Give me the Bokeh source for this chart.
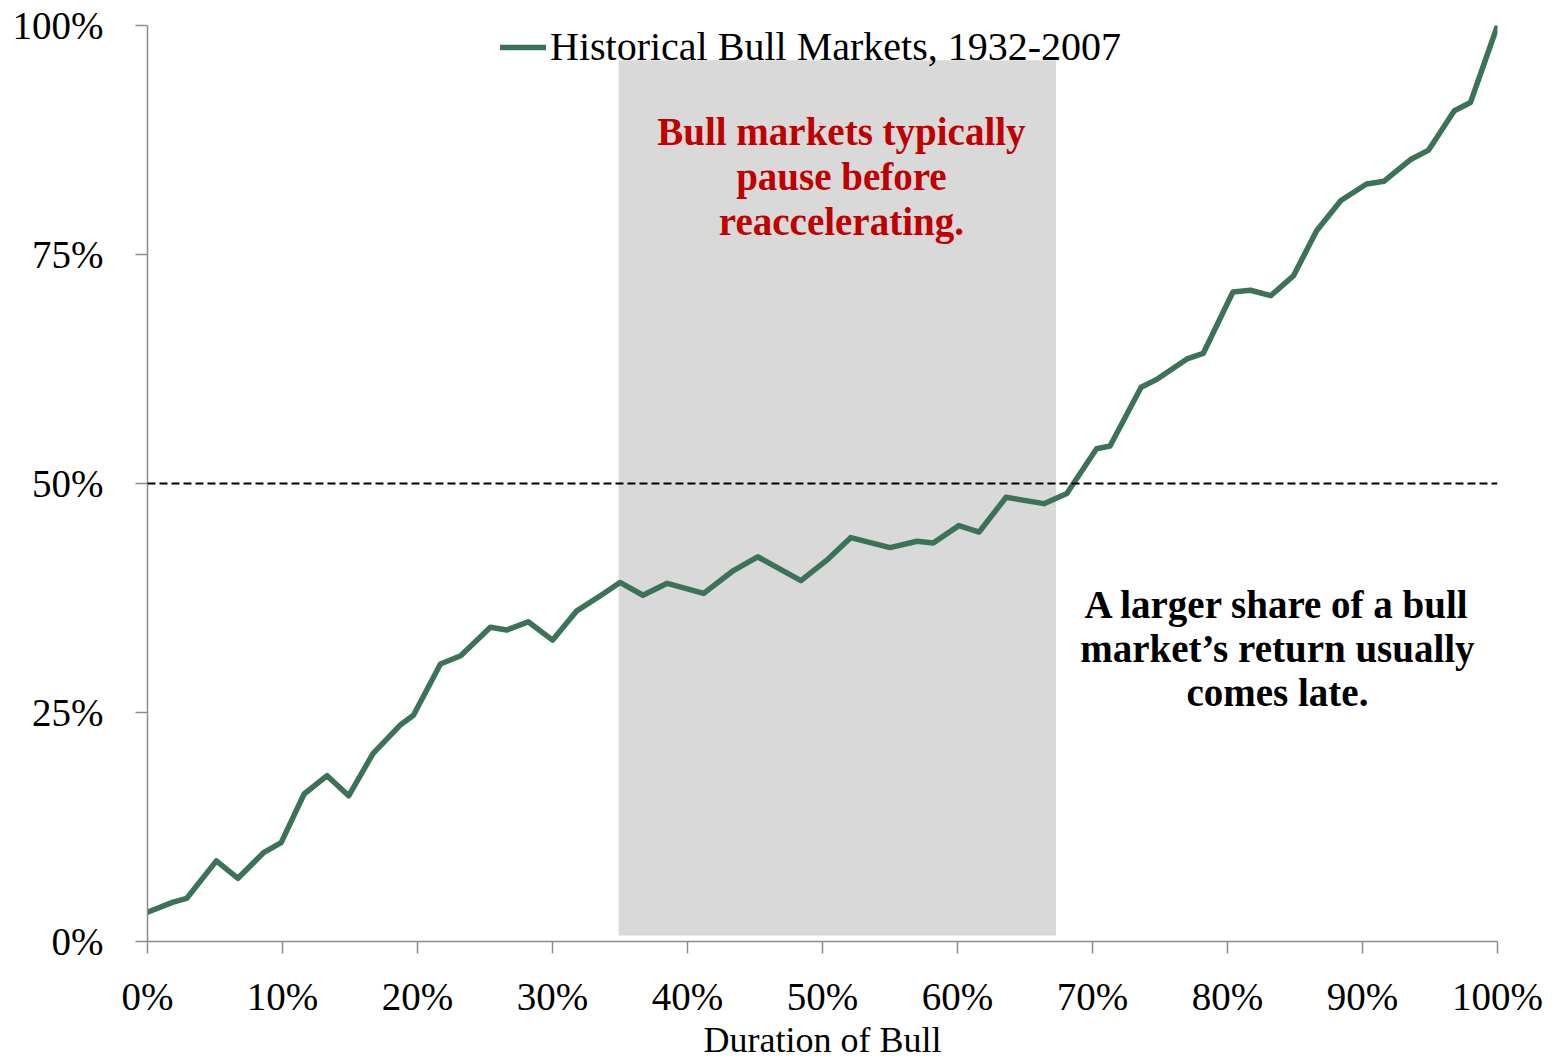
from bokeh.plotting import figure
from bokeh.models import (Range1d, FixedTicker, PrintfTickFormatter, BoxAnnotation,
                          Span, Label, Legend, LegendItem)
from bokeh.embed import file_html
from bokeh.resources import INLINE

# ---- data ----
duration_pct = [0.0, 1.9, 2.9, 5.1, 6.7, 8.6, 9.9, 11.6, 13.3, 14.9, 16.7, 18.7, 19.7,
                21.7, 23.2, 25.4, 26.6, 28.2, 30.0, 31.8, 33.6, 35.0, 36.7, 38.5, 41.2,
                43.4, 45.2, 48.4, 50.3, 52.1, 55.0, 57.0, 58.2, 60.1, 61.6, 63.6, 66.4,
                68.1, 70.3, 71.3, 73.6, 74.8, 77.0, 78.2, 80.4, 81.7, 83.2, 84.9, 86.6,
                88.4, 90.3, 91.6, 93.6, 94.9, 96.8, 98.0, 100.0]
return_share_pct = [3.2, 4.3, 4.7, 8.8, 6.9, 9.7, 10.8, 16.1, 18.1, 15.9, 20.5, 23.6, 24.7,
                    30.3, 31.2, 34.3, 34.0, 34.9, 32.9, 36.1, 37.8, 39.2, 37.8, 39.1, 38.0,
                    40.5, 42.0, 39.4, 41.6, 44.1, 43.0, 43.7, 43.5, 45.4, 44.7, 48.5, 47.8,
                    48.9, 53.8, 54.1, 60.5, 61.4, 63.6, 64.2, 70.9, 71.1, 70.5, 72.7, 77.6,
                    80.9, 82.7, 83.0, 85.4, 86.4, 90.7, 91.6, 100.0]
series_name = "Historical Bull Markets, 1932-2007"
x_ticks = [0, 10, 20, 30, 40, 50, 60, 70, 80, 90, 100]
y_ticks = [0, 25, 50, 75, 100]
pause_start, pause_end = 34.9, 67.3
reference_level = 50

FONT = "Liberation Serif"
GREEN = "#3C7358"
AXIS_GREY = "#8C8C8C"

p = figure(width=1555, height=1062,
           x_range=Range1d(0, 100), y_range=Range1d(0, 100),
           output_backend="svg", toolbar_location=None,
           min_border_left=147, min_border_right=58,
           min_border_top=25, min_border_bottom=121)
p.xgrid.visible = False
p.ygrid.visible = False
p.outline_line_color = None
p.background_fill_color = "white"
p.border_fill_color = "white"

# shaded "pause" region
p.add_layout(BoxAnnotation(left=pause_start, right=pause_end, bottom=0.65, top=96.2,
                           fill_color="#D9D9D9", fill_alpha=1.0, line_alpha=0,
                           level="underlay"))

# 50% dashed reference line
p.add_layout(Span(location=reference_level, dimension="width", line_color="black",
                  line_width=2, line_dash="8 4"))

line = p.line(duration_pct, return_share_pct, line_color=GREEN, line_width=5.5,
              line_cap="round", line_join="round")

# axes
for ax in (p.xaxis[0], p.yaxis[0]):
    ax.formatter = PrintfTickFormatter(format="%d%%")
    ax.axis_line_color = AXIS_GREY
    ax.axis_line_width = 1.5
    ax.major_tick_line_color = AXIS_GREY
    ax.major_tick_line_width = 1.5
    ax.major_tick_out = 12
    ax.major_tick_in = 0
    ax.minor_tick_line_color = None
    ax.major_label_text_font = FONT
    ax.major_label_text_font_size = "39px"
    ax.major_label_text_color = "black"
p.xaxis[0].ticker = FixedTicker(ticks=x_ticks)
p.yaxis[0].ticker = FixedTicker(ticks=y_ticks)
p.xaxis[0].major_label_standoff = 21
p.yaxis[0].major_label_standoff = 32

# x-axis title
p.xaxis[0].axis_label = "Duration of Bull"
p.xaxis[0].axis_label_text_font = FONT
p.xaxis[0].axis_label_text_font_size = "36px"
p.xaxis[0].axis_label_text_font_style = "normal"
p.xaxis[0].axis_label_text_color = "black"
p.xaxis[0].axis_label_standoff = -1

# red annotation
red_lines = ["Bull markets typically", "pause before", "reaccelerating."]
for i, t in enumerate(red_lines):
    p.add_layout(Label(x=51.4, y=88.4 - i * 4.9, text=t, text_align="center",
                       text_baseline="alphabetic", text_font=FONT,
                       text_font_size="39px", text_font_style="bold",
                       text_color="#C00000"))

# black annotation
black_lines = ["A larger share of a bull", "market\u2019s return usually", "comes late."]
for i, t in enumerate(black_lines):
    p.add_layout(Label(x=83.7, y=36.8 - i * 4.8, text=t, text_align="center",
                       text_baseline="alphabetic", text_font=FONT,
                       text_font_size="39px", text_font_style="bold",
                       text_color="black"))

legend = Legend(items=[LegendItem(label=series_name, renderers=[line])],
                location=(353, 871), orientation="horizontal",
                glyph_width=46, glyph_height=44, label_height=44,
                label_standoff=4, padding=0, margin=0, spacing=0,
                label_text_font=FONT, label_text_font_size="40px",
                label_text_color="black",
                border_line_alpha=0, background_fill_alpha=0)
p.add_layout(legend)

open("out.html", "w").write(file_html(p, INLINE))
